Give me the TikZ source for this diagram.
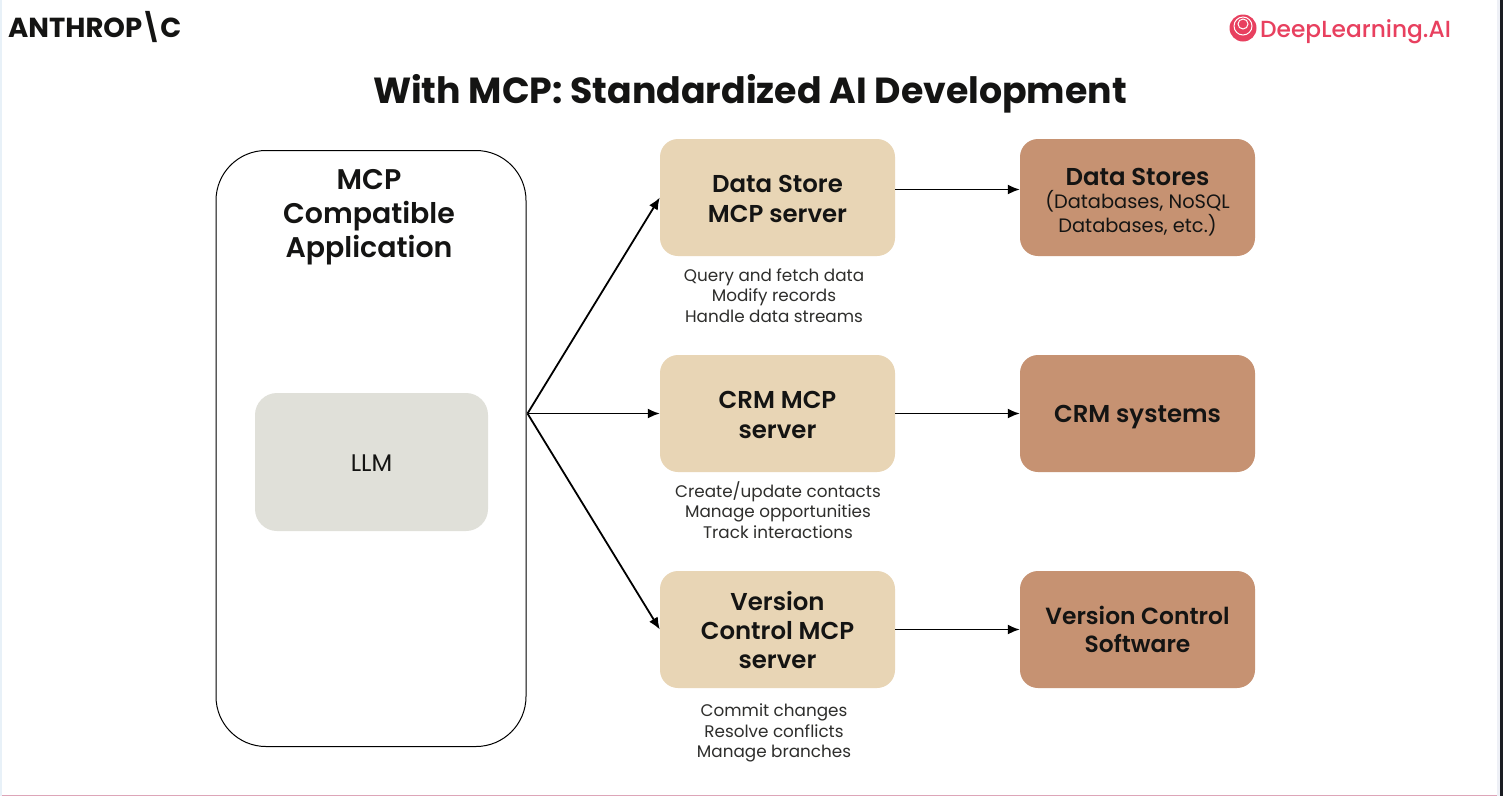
\documentclass[tikz,border=0pt]{standalone}
\usepackage{fontspec}
\setmainfont{Poppins}
\newfontface\semibold{Poppins SemiBold}
\newfontface\medium{Poppins Medium}
\usepackage{tikz}
\usetikzlibrary{arrows.meta}
\definecolor{serverfill}{HTML}{E8D5B5}
\definecolor{systemfill}{HTML}{C69272}
\definecolor{llmfill}{HTML}{E0E0D9}
\definecolor{inkblack}{HTML}{141413}
\definecolor{notegrey}{HTML}{2E2E2C}
\definecolor{dlred}{HTML}{E8405F}
\definecolor{leftedge}{HTML}{E8F1F8}
\definecolor{rightedge}{HTML}{EEF0F6}
\definecolor{darkedge}{HTML}{1A1C22}
\definecolor{bottomedge}{HTML}{DDA5B8}
\tikzset{
	server/.style={fill=serverfill, rounded corners=18pt, minimum width=235pt, minimum height=117pt, inner sep=0pt, align=center, text=inkblack, font=\fontsize{24.4}{29.2}\semibold},
	system/.style={server, fill=systemfill},
	note/.style={align=center, text=notegrey, inner sep=0pt, font=\fontsize{16.8}{20.4}\selectfont},
	link/.style={-{Latex[length=12pt,width=10pt]}, line width=1.8pt, black}
}
\begin{document}
\begin{tikzpicture}[x=1pt, y=-1pt]
		\useasboundingbox (0,0) rectangle (1503,796);
		\fill [white] (0,0) rectangle (1503,796);
		\fill [leftedge] (0,0) rectangle (2,796);
		\fill [rightedge] (1497,0) rectangle (1500,796);
		\fill [darkedge] (1500,0) rectangle (1503,796);
		\fill [bottomedge] (2,794.5) rectangle (1497,796);
		\node (anthropic) [anchor=west, inner sep=0pt, text=inkblack] at (8,27) {\fontsize{27.5}{27.5}\selectfont\bfseries ANTHROP\kern-2pt\textbackslash\kern-2pt C};
		\node (logo) [circle, fill=dlred, minimum size=27pt, inner sep=0pt] at (1243,28) {};
		\node (logoring) [circle, draw=white, line width=1pt, minimum size=18pt, inner sep=0pt] at (1243,26) {};
		\node (logoeye) [circle, draw=white, line width=1pt, minimum size=10pt, inner sep=0pt] at (1243,24) {};
		\node (dlai) [anchor=base west, inner sep=0pt, text=dlred] at (1260,37) {\fontsize{23.3}{24}\medium DeepLearning.AI};
		\node (title) [inner sep=0pt, text=inkblack] at (750,94) {\fontsize{36.3}{36}\selectfont\bfseries With MCP: Standardized AI Development};
		\node (app) [draw=black, line width=1pt, fill=white, rounded corners=50pt, minimum width=310pt, minimum height=596pt] at (371,448.5) {};
		\node (apptext) [align=center, inner sep=0pt, text=inkblack, font=\fontsize{28.4}{34}\semibold] at (369,217) {MCP\\Compatible\\Application};
		\node (llm) [fill=llmfill, rounded corners=22pt, minimum width=233pt, minimum height=138pt, text=inkblack, font=\fontsize{24}{26}\selectfont] at (371.5,462) {\raisebox{-9.5pt}[0pt][0pt]{LLM}};
		\matrix at (957.5,413.5) [column sep=125pt, row sep=99pt] {
			\node (dsserver) [server] {\rule{0pt}{20pt}Data Store\\MCP server}; &
			\node (dstores) [system, font=\fontsize{19.4}{23.6}\selectfont] {\rule{0pt}{26pt}{\fontsize{24.4}{24}\semibold Data Stores}\\(Databases, NoSQL\\Databases, etc.)}; \\
			\node (crmserver) [server] {\rule{0pt}{20pt}CRM MCP\\server}; &
			\node (crm) [system] {\raisebox{-9pt}[0pt][0pt]{CRM systems}}; \\
			\node (vcserver) [server] {\rule{0pt}{20pt}Version\\Control MCP\\server}; &
			\node (vcs) [system, font=\fontsize{23.4}{28}\semibold] {Version Control\\Software}; \\
		};
		\node (dsnote) [note] at (774,295.5) {Query and fetch data\\Modify records\\Handle data streams};
		\node (crmnote) [note] at (778,510) {Create/update contacts\\Manage opportunities\\Track interactions};
		\node (vcnote) [note] at (774,733) {Commit changes\\Resolve conflicts\\Manage branches};
		\coordinate (fan) at ([xshift=1pt]app.east |- crmserver);
		\draw [link] (fan) -- (dsserver.west);
		\draw [link] (fan) -- (crmserver.west);
		\draw [link] (fan) -- (vcserver.west);
		\draw [link] ([yshift=8pt]dsserver.east) -- ([yshift=8pt]dstores.west);
		\draw [link] (crmserver) -- (crm);
		\draw [link] (vcserver) -- (vcs);
		\end{tikzpicture}
\end{document}
